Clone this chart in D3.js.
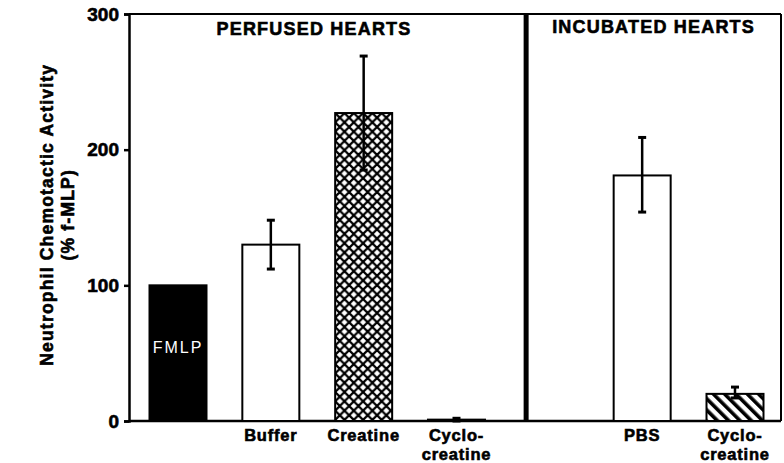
<!DOCTYPE html>
<html>
<head>
<meta charset="utf-8">
<script src="https://cdn.jsdelivr.net/npm/d3@7"></script>
<style>
  html, body { margin: 0; padding: 0; background: #fff; }
  svg { display: block; font-family: "Liberation Sans", Arial, sans-serif; }
  .heavy { font-weight: bold; fill: #000; stroke: #000; stroke-width: 0.6; }
</style>
</head>
<body>
<div id="chart"></div>
<script>
// Neutrophil chemotactic activity, perfused vs incubated hearts
const categories = ['FMLP', 'Buffer', 'Creatine', 'Cyclo1', '', 'PBS', 'Cyclo2'];
const labels = [[], ['Buffer'], ['Creatine'], ['Cyclo-', 'creatine'], [], ['PBS'], ['Cyclo-', 'creatine']];
const values = [100, 130, 227, 1, null, 181, 20];
const errLow = [null, 112, 185, 0, null, 154, 17];
const errHigh = [null, 148, 269, 2, null, 209, 25];
const fills = ['solid', 'open', 'cross', 'open', null, 'open', 'hatch'];
const yTicks = [0, 100, 200, 300];
const panels = ['PERFUSED HEARTS', 'INCUBATED HEARTS'];

const W = 784, H = 463;
const svg = d3.select('#chart').append('svg').attr('width', W).attr('height', H);

const y = d3.scaleLinear().domain([0, 300]).range([421, 14]);
const x = d3.scalePoint().domain(d3.range(categories.length)).range([178, 735]);
const step = x.step();
const barW = 57;
const xLeft = 129, xRight = 781;
const xDivider = x(3) + step * 0.75;

// patterns
const defs = svg.append('defs');
const cross = defs.append('pattern').attr('id', 'cross')
  .attr('patternUnits', 'userSpaceOnUse').attr('width', 9.3).attr('height', 9.3)
  .attr('x', x(2) - barW / 2).attr('y', y(227));
cross.append('rect').attr('width', 9.3).attr('height', 9.3).attr('fill', '#fff');
cross.append('path').attr('d', 'M-1,-1L10.3,10.3M-1,10.3L10.3,-1M-5.65,4.65L4.65,14.95M4.65,-5.65L14.95,4.65M-5.65,4.65L4.65,-5.65M4.65,14.95L14.95,4.65')
  .attr('stroke', '#000').attr('stroke-width', 2.2);
const hatch = defs.append('pattern').attr('id', 'hatch')
  .attr('patternUnits', 'userSpaceOnUse').attr('width', 8).attr('height', 8)
  .attr('patternTransform', 'rotate(-45)');
hatch.append('rect').attr('width', 8).attr('height', 8).attr('fill', '#fff');
hatch.append('rect').attr('width', 3.6).attr('height', 8).attr('fill', '#000');

// frame
const frame = svg.append('g').attr('stroke', '#000').attr('fill', 'none');
frame.append('line').attr('x1', xLeft).attr('x2', xRight).attr('y1', y(300)).attr('y2', y(300)).attr('stroke-width', 2);
frame.append('line').attr('x1', xRight).attr('x2', xRight).attr('y1', y(300)).attr('y2', y(0)).attr('stroke-width', 2);
frame.append('line').attr('x1', xDivider).attr('x2', xDivider).attr('y1', y(300)).attr('y2', y(0)).attr('stroke-width', 5);

// y axis
const yAxis = svg.append('g').attr('transform', `translate(${xLeft},0)`)
  .call(d3.axisLeft(y).tickValues(yTicks).tickSize(5).tickPadding(5));
yAxis.select('.domain').attr('stroke-width', 2.5);
yAxis.selectAll('.tick line').attr('stroke-width', 2.5);
yAxis.selectAll('.tick text').attr('class', 'heavy').attr('font-size', 19)
  .attr('font-family', '"Liberation Sans", Arial, sans-serif');

// x baseline
svg.append('line').attr('x1', xLeft).attr('x2', xRight).attr('y1', y(0)).attr('y2', y(0))
  .attr('stroke', '#000').attr('stroke-width', 2.5);

// bars
const idx = d3.range(categories.length).filter(i => values[i] != null);
svg.append('g').selectAll('rect').data(idx).join('rect')
  .attr('x', i => x(i) - barW / 2)
  .attr('y', i => y(values[i]))
  .attr('width', barW)
  .attr('height', i => y(0) - y(values[i]))
  .attr('fill', i => fills[i] === 'solid' ? '#000' : fills[i] === 'cross' ? 'url(#cross)' : fills[i] === 'hatch' ? 'url(#hatch)' : '#fff')
  .attr('stroke', '#000').attr('stroke-width', 2);

// error bars
const errIdx = idx.filter(i => errLow[i] != null);
const eb = svg.append('g').attr('stroke', '#000');
eb.selectAll('line.v').data(errIdx).join('line').attr('class', 'v')
  .attr('x1', i => x(i)).attr('x2', i => x(i))
  .attr('y1', i => y(errLow[i])).attr('y2', i => y(errHigh[i]))
  .attr('stroke-width', 2.5);
eb.selectAll('line.cap').data(errIdx.flatMap(i => [[i, errHigh[i]], [i, errLow[i]]])).join('line').attr('class', 'cap')
  .attr('x1', d => x(d[0]) - 4).attr('x2', d => x(d[0]) + 4)
  .attr('y1', d => y(d[1])).attr('y2', d => y(d[1]))
  .attr('stroke-width', 3);

// FMLP label in bar
svg.append('text').attr('x', x(0)).attr('y', 353).attr('text-anchor', 'middle')
  .attr('fill', '#fff').attr('font-size', 16).attr('letter-spacing', 2).text('FMLP');

// category labels
const cl = svg.append('g').attr('class', 'heavy').attr('font-size', 16.5).attr('letter-spacing', 0.8).attr('text-anchor', 'middle');
labels.forEach((ls, i) => {
  ls.forEach((s, k) => {
    cl.append('text').attr('x', x(i)).attr('y', 441 + k * 19).text(s);
  });
});

// panel titles
const pt = svg.append('g').attr('class', 'heavy').attr('font-size', 18).attr('text-anchor', 'middle').attr('letter-spacing', 1.2);
pt.append('text').attr('x', 314).attr('y', 35).text(panels[0]);
pt.append('text').attr('x', (xDivider + xRight) / 2).attr('y', 33).text(panels[1]);

// y label
const yl = svg.append('g').attr('class', 'heavy').attr('font-size', 17.5).attr('letter-spacing', 1.2).attr('text-anchor', 'middle');
yl.append('text').attr('transform', `translate(53,${y(152)}) rotate(-90)`).text('Neutrophil Chemotactic Activity');
yl.append('text').attr('transform', `translate(74,${y(152)}) rotate(-90)`).text('(% f-MLP)');
</script>
</body>
</html>
